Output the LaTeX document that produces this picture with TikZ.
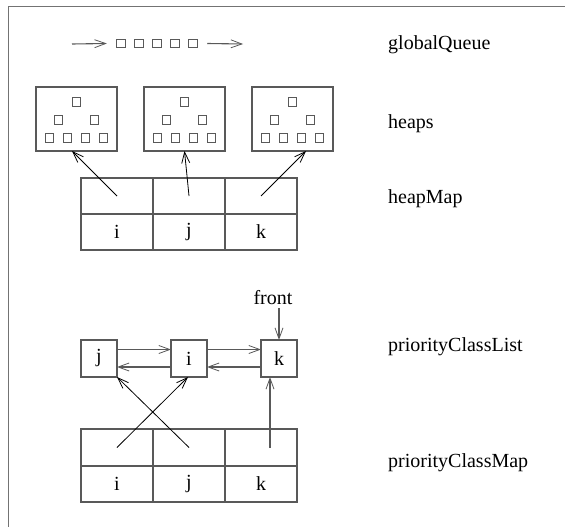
\documentclass[tikz,border=0pt]{standalone}
\usepackage{fontspec}
\setmainfont{Liberation Serif}
\usetikzlibrary{arrows.meta}
\begin{document}
\begin{tikzpicture}[x=1pt,y=-1pt,
  txt/.style={font=\fontsize{20}{24}\selectfont},
  frameline/.style={draw=black!55,line width=1.4pt},
  box/.style={draw=black!65,line width=1.2pt,inner sep=0pt,outer sep=0pt},
  heapbox/.style={box,minimum width=81pt,minimum height=64pt},
  mini/.style={box,line width=1pt,minimum size=8.5pt},
  cell/.style={box,txt,minimum width=72pt,minimum height=36pt},
  listbox/.style={box,txt,minimum width=36pt,minimum height=37pt},
  ptr/.style={line width=0.8pt,-{Straight Barb[length=11pt,width=8pt,line width=0.8pt]}},
  lptr/.style={ptr,draw=black!65,line width=1.1pt},
  lbl/.style={txt,anchor=west,inner sep=0pt},
]
\useasboundingbox (0,0) rectangle (565,527);

% outer frame (top and left edges)
\draw[frameline] (8.5,527) -- (8.5,6.5) -- (565,6.5);

% global queue
\coordinate (qin) at (72,44);
\coordinate (qout) at (243,44);
\foreach \i/\x in {1/121,2/139,3/157,4/175,5/193}
  \node[mini] (q\i) at (\x,43.5) {};
\draw[lptr] (qin) -- ([xshift=-10pt]q1.west);
\draw[lptr] ([xshift=10pt]q5.east) -- (qout);
\node[lbl] (lglobal) at (388,45) {globalQueue};

% heaps, each holding a small binary tree of cells
\foreach \h/\cx in {1/76.5,2/184.5,3/292.5}{
  \node[heapbox] (h\h) at (\cx,119) {};
  \node[mini] (h\h t) at (\cx,102) {};
  \node[mini] (h\h ml) at (\cx-18,120) {};
  \node[mini] (h\h mr) at (\cx+18,120) {};
  \foreach \b/\dx in {1/-27,2/-9,3/9,4/27}
    \node[mini] (h\h b\b) at (\cx+\dx,138) {};
}
\node[lbl] (lheaps) at (388,124) {heaps};

% heapMap table
\foreach \c/\x/\t in {1/117/i,2/189/j,3/261/k}{
  \node[cell] (hmt\c) at (\x,196) {};
  \node[cell] (hmb\c) at (\x,232) {\t};
}
\draw[ptr] (hmt1.center) -- ([xshift=-4.5pt]h1.south);
\draw[ptr] (hmt2.center) -- (h2.south);
\draw[ptr] (hmt3.center) -- ([xshift=13.5pt]h3.south);
\node[lbl] (lheapmap) at (388,199) {heapMap};

% priority class list
\node[listbox] (pj) at (99,358.5) {j};
\node[listbox] (pi) at (189,358.5) {i};
\node[listbox] (pk) at (279,358.5) {k};
\node[txt,inner sep=1pt] (front) at (273,298) {front};
\draw[lptr] (front.south -| pk.north) ++(0,-2pt) coordinate (fs) (fs) -- (pk.north);
\draw[lptr] ([yshift=9pt]pj.east) -- ([yshift=9pt]pi.west);
\draw[lptr] ([yshift=9pt]pi.east) -- ([yshift=9pt]pk.west);
\draw[lptr] ([yshift=-8.5pt]pi.west) -- ([yshift=-8.5pt]pj.east);
\draw[lptr] ([yshift=-8.5pt]pk.west) -- ([yshift=-8.5pt]pi.east);
\node[lbl] (llist) at (388,347) {priorityClassList};

% priority class map table
\foreach \c/\x/\t in {1/117/i,2/189/j,3/261/k}{
  \node[cell,minimum height=37pt] (pmt\c) at (\x,447.5) {};
  \node[cell] (pmb\c) at (\x,484) {\t};
}
\draw[ptr] (pmt1.center) -- ([xshift=-1pt]pi.south);
\draw[ptr] (pmt2.center) -- (pj.south east);
\draw[lptr] ([xshift=9pt]pmt3.center) -- ([xshift=-9pt]pk.south);
\node[lbl] (lmap) at (388,463) {priorityClassMap};
\end{tikzpicture}
\end{document}
